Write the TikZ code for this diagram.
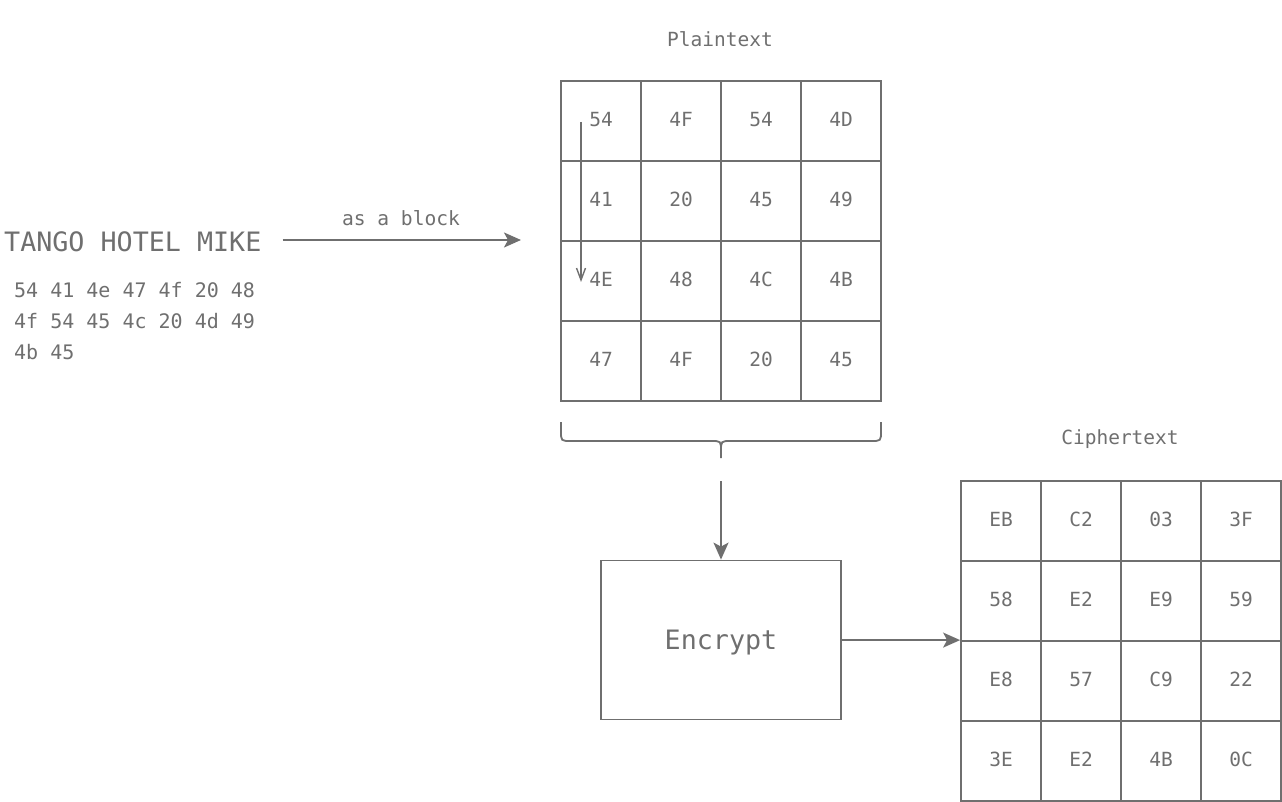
\documentclass[tikz,border=0pt]{standalone}
\usepackage{fontspec}
\setmainfont{DejaVu Sans Mono}
\usetikzlibrary{arrows.meta}
\definecolor{ink}{HTML}{6F6F6F}
\tikzset{
  line/.style={draw=ink, line width=1.8pt},
  cell/.style={line, minimum size=80pt, inner sep=0pt, text=ink, text depth=3pt, font=\fontsize{19.5}{19.5}\selectfont},
  txt/.style={inner sep=0pt, text=ink},
  arr/.style={line, -{Stealth[length=17pt, width=15pt, inset=4pt]}},
  thinarr/.style={draw=ink, line width=1.4pt, -{Straight Barb[length=12pt, width=9pt]}},
}
\begin{document}
\begin{tikzpicture}[x=1pt, y=-1pt]
\useasboundingbox (0,0) rectangle (1282,802);

% plaintext grid
\foreach \row [count=\r] in {{54,4F,54,4D},{41,20,45,49},{4E,48,4C,4B},{47,4F,20,45}}{
  \foreach \t [count=\c] in \row {
    \node[cell] (p\r\c) at (521+80*\c, 41+80*\r) {\t};
  }
}
% ciphertext grid
\foreach \row [count=\r] in {{EB,C2,03,3F},{58,E2,E9,59},{E8,57,C9,22},{3E,E2,4B,0C}}{
  \foreach \t [count=\c] in \row {
    \node[cell] (c\r\c) at (921+80*\c, 441+80*\r) {\t};
  }
}

\node[txt, font=\fontsize{19.5}{19.5}\selectfont] (ptitle) at (720,39) {Plaintext};
\node[txt, font=\fontsize{19.5}{19.5}\selectfont] (ctitle) at (1120,439.5) {Ciphertext};

\node[txt, anchor=west, font=\fontsize{26.7}{26.7}\selectfont] (tango) at (4,241.5) {TANGO HOTEL MIKE};
\node[txt, anchor=north west, align=left, font=\fontsize{20}{31}\selectfont] (hex) at (14,282)
  {54 41 4e 47 4f 20 48\\4f 54 45 4c 20 4d 49\\4b 45};

\node[line, minimum width=240pt, minimum height=159pt, inner sep=0pt, text=ink, text depth=0pt,
      font=\fontsize{26.7}{26.7}\selectfont] (enc) at (721,640) {Encrypt};

% arrow "as a block"
\coordinate (blockend) at (521,240);
\draw[arr, shorten <=21pt] (tango.east |- blockend) -- (blockend);
\node[txt, font=\fontsize{19.6}{19.6}\selectfont] (lbl) at (401,218) {as a block};

% small column arrow
\coordinate (sa) at (581,122);
\coordinate (sb) at (581,282);
\draw[thinarr] (sa) -- (sb);

% brace
\draw[line] (561,422) -- (561,431) .. controls (561,441) .. (571,441) -- (711,441)
  .. controls (721,441) .. (721,451) -- (721,458);
\draw[line] (881,422) -- (881,431) .. controls (881,441) .. (871,441) -- (731,441)
  .. controls (721,441) .. (721,451);

% arrows to and from Encrypt
\coordinate (encin) at (721,481);
\draw[arr] (encin) -- (enc.north);
\draw[arr] (enc.east) -- (c31.north west);
\end{tikzpicture}
\end{document}
